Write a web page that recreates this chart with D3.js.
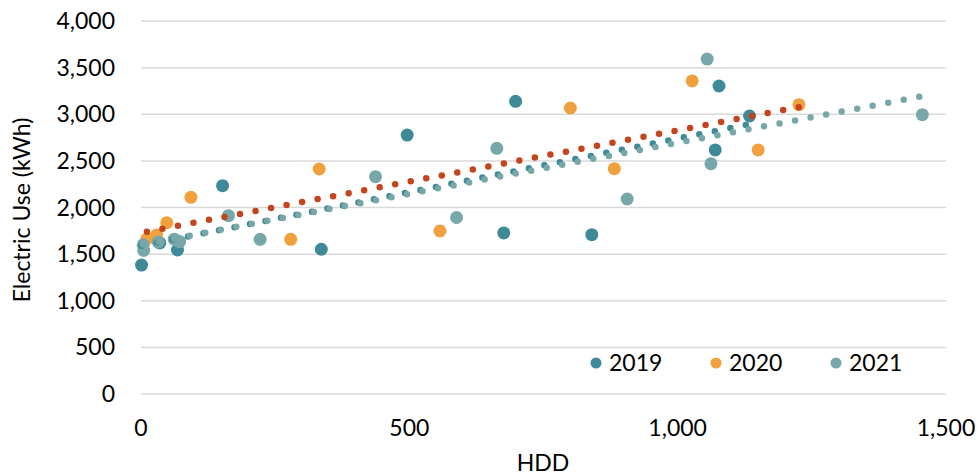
<!DOCTYPE html>
<html>
<head>
<meta charset="utf-8">
<script src="https://cdn.jsdelivr.net/npm/d3@7"></script>
<style>
  body { margin: 0; background: #fff; }
  text { font-family: Lato, "Open Sans", sans-serif; fill: #000; }
</style>
</head>
<body>
<script>
// scatter data
var hdd2019 = [1, 35, 68, 152, 336, 496, 676, 698, 840, 1070, 1077, 1134];
var use2019 = [1383, 1620, 1544, 2234, 1552, 2777, 1727, 3139, 1709, 2617, 3303, 2981];

var hdd2020 = [11, 29, 48, 93, 279, 332, 557, 800, 882, 1027, 1150, 1226];
var use2020 = [1662, 1705, 1837, 2109, 1659, 2413, 1748, 3067, 2416, 3357, 2617, 3103];

var hdd2021 = [4, 5, 32, 62, 72, 163, 222, 437, 588, 663, 906, 1055, 1062, 1456];
var use2021 = [1600, 1540, 1630, 1660, 1635, 1912, 1659, 2331, 1893, 2635, 2091, 3592, 2470, 2995];

// linear trendlines (intercept, slope, from, to)
var trendIntercept = [1589, 1728, 1599];
var trendSlope = [1.15, 1.10, 1.095];
var trendFrom = [1, 11, 4];
var trendTo = [1134, 1226, 1456];

var years = ["2019", "2020", "2021"];
var colors = ["#3f8a98", "#f0a13e", "#78a7aa"];
var trendColors = ["#3f8a98", "#c4451d", "#78a7aa"];

var yTicks = [0, 500, 1000, 1500, 2000, 2500, 3000, 3500, 4000];
var xTicks = [0, 500, 1000, 1500];

var width = 979, height = 475;

var svg = d3.select("body").append("svg").attr("width", width).attr("height", height);

var x = d3.scaleLinear().domain([0, 1500]).range([141, 946]);
var y = d3.scaleLinear().domain([0, 4000]).range([394, 21]);
var fmt = d3.format(",");

// gridlines
svg.selectAll("line.grid")
  .data(yTicks)
  .enter().append("line")
    .attr("class", "grid")
    .attr("x1", x(0)).attr("x2", x(1500))
    .attr("y1", function(d){ return y(d); })
    .attr("y2", function(d){ return y(d); })
    .attr("stroke", "#d9d9d9")
    .attr("stroke-width", 1.5);

// y tick labels
svg.selectAll("text.ytick")
  .data(yTicks)
  .enter().append("text")
    .attr("class", "ytick")
    .attr("x", 115)
    .attr("y", function(d){ return y(d); })
    .attr("dy", "0.35em")
    .attr("text-anchor", "end")
    .attr("font-size", 23)
    .text(function(d){ return fmt(d); });

// x tick labels
svg.selectAll("text.xtick")
  .data(xTicks)
  .enter().append("text")
    .attr("class", "xtick")
    .attr("x", function(d){ return x(d); })
    .attr("y", 428)
    .attr("dy", "0.35em")
    .attr("text-anchor", "middle")
    .attr("font-size", 23)
    .text(function(d){ return fmt(d); });

// axis titles
svg.append("text")
  .attr("x", 543).attr("y", 463)
  .attr("dy", "0.35em")
  .attr("text-anchor", "middle")
  .attr("font-size", 23)
  .text("HDD");

svg.append("text")
  .attr("transform", "translate(22,210) rotate(-90)")
  .attr("dy", "0.35em")
  .attr("text-anchor", "middle")
  .attr("font-size", 23)
  .text("Electric Use (kWh)");

// scatter points
var series = [
  { hdd: hdd2019, use: use2019 },
  { hdd: hdd2020, use: use2020 },
  { hdd: hdd2021, use: use2021 }
];

series.forEach(function(s, p){
  var pts = s.hdd.map(function(h, i){ return { x: h, y: s.use[i] }; });
  svg.append("g").attr("class", "series" + p)
    .selectAll("circle")
    .data(pts)
    .enter().append("circle")
      .attr("cx", function(d){ return x(d.x); })
      .attr("cy", function(d){ return y(d.y); })
      .attr("r", 6.5)
      .attr("fill", colors[p]);
});

// dotted trendlines
var line = d3.line()
  .x(function(d){ return x(d.x); })
  .y(function(d){ return y(d.y); });

years.forEach(function(yr, p){
  var ends = [trendFrom[p], trendTo[p]].map(function(h){
    return { x: h, y: trendIntercept[p] + trendSlope[p] * h };
  });
  svg.append("path")
    .attr("d", line(ends))
    .attr("fill", "none")
    .attr("stroke", trendColors[p])
    .attr("stroke-width", 6.5)
    .attr("stroke-linecap", "round")
    .attr("stroke-dasharray", "0 15.8");
});

// legend
var legendX = [596, 716, 836];
var legend = svg.selectAll("g.legend")
  .data(years)
  .enter().append("g")
    .attr("class", "legend")
    .attr("transform", function(d, i){ return "translate(" + legendX[i] + ",363)"; });

legend.append("circle")
  .attr("r", 5.5)
  .attr("fill", function(d, i){ return colors[i]; });

legend.append("text")
  .attr("x", 13)
  .attr("dy", "0.35em")
  .attr("font-size", 23)
  .text(function(d){ return d; });
</script>
</body>
</html>
